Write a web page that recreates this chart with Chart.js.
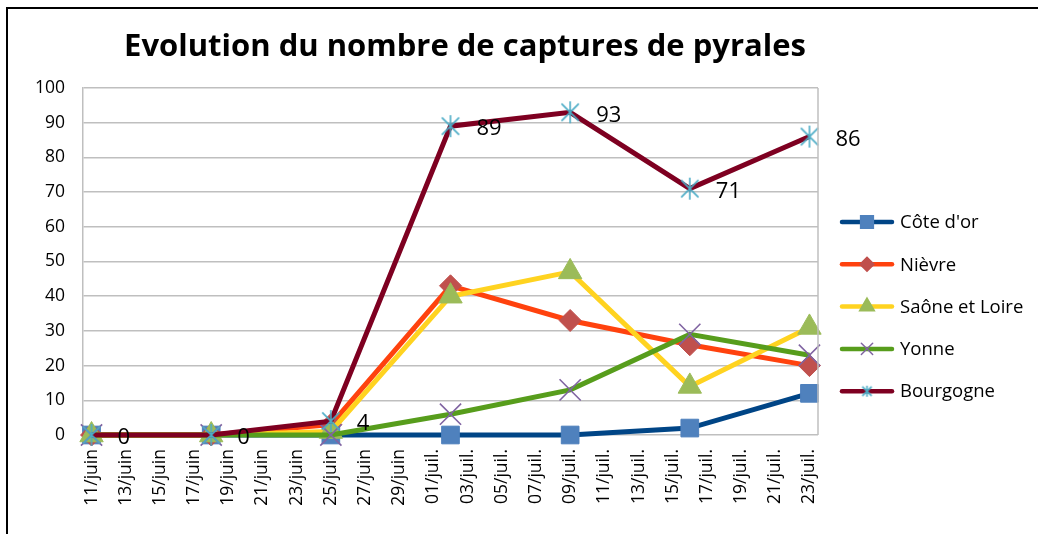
<!DOCTYPE html>
<html>
<head>
<meta charset="utf-8">
<script src="https://cdn.jsdelivr.net/npm/chart.js@4.4.1/dist/chart.umd.min.js"></script>
<style>
  html, body { margin: 0; padding: 0; background: #fff; }
  #cadre { position: absolute; left: 6px; top: 7px; width: 1040px; height: 540px; border-left: 2px solid #000; border-top: 2px solid #000; }
  #zone { position: absolute; left: 0; top: 0; width: 1038px; height: 534px; }
</style>
</head>
<body>
<div id="cadre"></div>
<div id="zone"><canvas id="graphique"></canvas></div>
<script>
// Données
const titre = "Evolution du nombre de captures de pyrales";
const joursReleves = [0, 7, 14, 21, 28, 35, 42]; // jours depuis le 11/juin
const joursGraduation = [0, 2, 4, 6, 8, 10, 12, 14, 16, 18, 20, 22, 24, 26, 28, 30, 32, 34, 36, 38, 40, 42];
const etiquettesX = ["11/juin", "13/juin", "15/juin", "17/juin", "19/juin", "21/juin", "23/juin", "25/juin",
  "27/juin", "29/juin", "01/juil.", "03/juil.", "05/juil.", "07/juil.", "09/juil.", "11/juil.",
  "13/juil.", "15/juil.", "17/juil.", "19/juil.", "21/juil.", "23/juil."];
const series = ["Côte d'or", "Nièvre", "Saône et Loire", "Yonne", "Bourgogne"];
const coteDor = [0, 0, 0, 0, 0, 2, 12];
const nievre = [0, 0, 3, 43, 33, 26, 20];
const saoneEtLoire = [0, 0, 1, 40, 47, 14, 31];
const yonne = [0, 0, 0, 6, 13, 29, 23];
const bourgogne = [0, 0, 4, 89, 93, 71, 86];

const police = "'Open Sans', 'Liberation Sans', sans-serif";

// marqueur étoile façon Excel (X + trait vertical)
function etoile(taille, couleur) {
  const c = document.createElement("canvas");
  c.width = taille; c.height = taille;
  const g = c.getContext("2d");
  const m = taille / 2, d = taille * 0.36;
  g.strokeStyle = couleur;
  g.lineWidth = 1.6;
  g.beginPath();
  g.moveTo(m - d, m - d); g.lineTo(m + d, m + d);
  g.moveTo(m + d, m - d); g.lineTo(m - d, m + d);
  g.moveTo(m, 1); g.lineTo(m, taille - 1);
  g.stroke();
  return c;
}

const styles = [
  { ligne: "#004586", marque: "#4F81BD", forme: "rect", rayon: 12.5, rayonLegende: 9 },
  { ligne: "#FF420E", marque: "#C0504D", forme: "rectRot", rayon: 11, rayonLegende: 7 },
  { ligne: "#FFD320", marque: "#9BBB59", forme: "triangle", rayon: 13.5, rayonLegende: 8.5 },
  { ligne: "#579D1C", marque: "#8064A2", forme: "crossRot", rayon: 15, rayonLegende: 8 },
  { ligne: "#7E0021", marque: "#4BACC6", forme: etoile(24, "#4BACC6"), rayon: 12, rayonLegende: 6, image: etoile(13, "#4BACC6") }
];
const valeurs = [coteDor, nievre, saoneEtLoire, yonne, bourgogne];

const jeux = series.map((nom, i) => ({
  label: nom,
  data: valeurs[i].map((v, k) => ({ x: joursReleves[k], y: v })),
  borderColor: styles[i].ligne,
  borderWidth: 5,
  backgroundColor: styles[i].marque,
  pointStyle: styles[i].forme,
  pointRadius: styles[i].rayon,
  pointHoverRadius: styles[i].rayon,
  pointBackgroundColor: styles[i].marque,
  pointBorderColor: styles[i].marque,
  pointBorderWidth: (styles[i].forme === "crossRot") ? 1.6 : 1,
  tension: 0,
  clip: false,
  order: series.length - 1 - i
}));

const habillage = {
  id: "habillage",
  afterDraw(chart) {
    const ctx = chart.ctx;
    const zone = chart.chartArea;
    ctx.save();

    // bord droit de la zone de traçage
    ctx.strokeStyle = "#BFBFBF";
    ctx.lineWidth = 1.5;
    ctx.beginPath();
    ctx.moveTo(zone.right, zone.top);
    ctx.lineTo(zone.right, zone.bottom);
    ctx.stroke();

    // titre
    ctx.fillStyle = "#000";
    ctx.font = "bold 31px " + police;
    ctx.textAlign = "center";
    ctx.textBaseline = "middle";
    ctx.fillText(titre, 465, 47);

    // étiquettes Bourgogne
    const meta = chart.getDatasetMeta(4);
    ctx.font = "22px " + police;
    ctx.textAlign = "left";
    meta.data.forEach((pt, k) => {
      ctx.fillText(String(bourgogne[k]), pt.x + 26, pt.y + 3);
    });

    // légende
    ctx.font = "18.5px " + police;
    series.forEach((nom, i) => {
      const y = 222 + i * 42.3;
      ctx.strokeStyle = styles[i].ligne;
      ctx.lineWidth = 4.5;
      ctx.lineCap = "round";
      ctx.beginPath();
      ctx.moveTo(842, y);
      ctx.lineTo(892, y);
      ctx.stroke();
      ctx.fillStyle = styles[i].marque;
      ctx.strokeStyle = styles[i].marque;
      ctx.lineWidth = 1.5;
      const forme = styles[i].image || styles[i].forme;
      Chart.helpers.drawPoint(ctx, { pointStyle: forme, radius: styles[i].rayonLegende, rotation: 0, borderWidth: 1.5 }, 867, y);
      ctx.fillStyle = "#000";
      ctx.textBaseline = "middle";
      ctx.fillText(nom, 900, y + 1);
    });
    ctx.restore();
  }
};

new Chart(document.getElementById("graphique"), {
  type: "line",
  data: { datasets: jeux },
  options: {
    responsive: true,
    maintainAspectRatio: false,
    animation: false,
    events: [],
    layout: { padding: { top: 88, right: 220, bottom: 0, left: 0 } },
    plugins: {
      legend: { display: false },
      title: { display: false },
      tooltip: { enabled: false }
    },
    scales: {
      x: {
        type: "linear",
        min: -0.5,
        max: 42.5,
        afterBuildTicks: (s) => { s.ticks = joursGraduation.map(v => ({ value: v })); },
        afterFit: (s) => { s.height = 99; },
        grid: { display: false, drawTicks: false },
        border: { display: false },
        ticks: {
          callback: (v, i) => etiquettesX[i],
          autoSkip: false,
          minRotation: 90,
          maxRotation: 90,
          padding: 14,
          color: "#000",
          font: { family: police, size: 17.5 }
        }
      },
      y: {
        min: 0,
        max: 100,
        afterFit: (s) => { s.width = 83; },
        grid: { color: "#BFBFBF", lineWidth: 1.5, drawTicks: false },
        border: { color: "#BFBFBF", width: 1.5 },
        ticks: {
          stepSize: 10,
          padding: 18,
          color: "#000",
          font: { family: police, size: 17.5 }
        }
      }
    }
  },
  plugins: [habillage]
});
</script>
</body>
</html>
